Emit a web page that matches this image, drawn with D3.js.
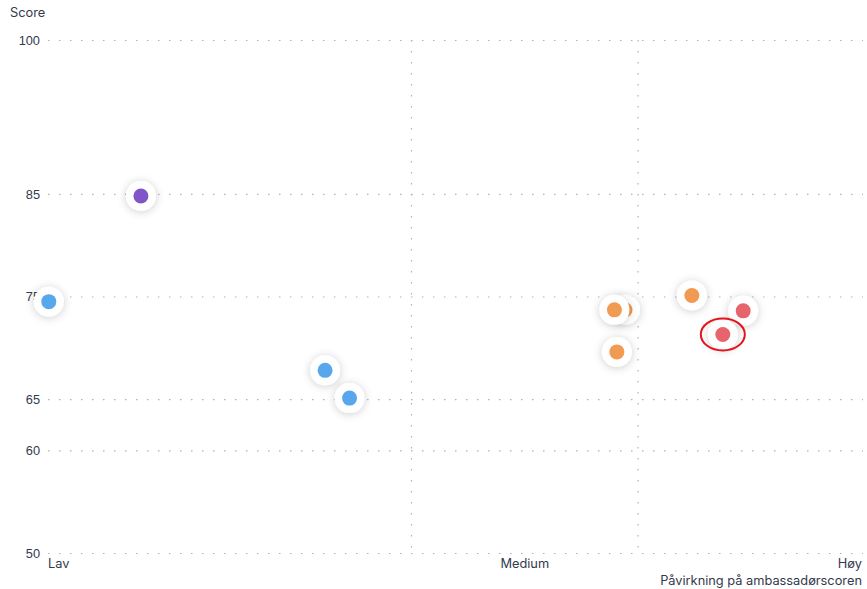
<!DOCTYPE html>
<html>
<head>
<meta charset="utf-8">
<script src="https://cdn.jsdelivr.net/npm/d3@7"></script>
<style>
  html, body { margin: 0; padding: 0; background: #fff; }
  svg { display: block; font-family: Inter, "Noto Sans", sans-serif; }
</style>
</head>
<body>
<svg id="chart" width="867" height="589"></svg>
<script>
// ---- data ----
const yTicks = [50, 60, 65, 75, 85, 100];
const xTickLabels = ["Lav", "Medium", "Høy"];
const xThresholds = [44.6, 72.4];
const pointX = [11.4, 0.1, 34.0, 37.0, 70.8, 69.5, 69.8, 79.0, 85.3, 82.8];
const pointY = [84.8, 74.5, 67.8, 65.1, 73.7, 73.7, 69.6, 75.1, 73.6, 71.3];
const pointGroup = ["purple", "blue", "blue", "blue", "orange", "orange", "orange", "orange", "red", "red"];
const highlighted = [false, false, false, false, false, false, false, false, false, true];
const yTitle = "Score";
const xTitle = "Påvirkning på ambassadørscoren";

const colors = { purple: "#7f55c9", blue: "#58a7ec", orange: "#f09a52", red: "#e8646c" };

// ---- layout ----
const svg = d3.select("#chart");
const mLeft = 48, mRight = 863, mTop = 40, mBottom = 553;
const fontSize = 12.8;
const textColor = "#333a4d";
const x = d3.scaleLinear().domain([0, 100]).range([mLeft, mRight]);
const y = d3.scaleLinear().domain([50, 100]).range([mBottom, mTop]);

const defs = svg.append("defs");
const f = defs.append("filter").attr("id", "shadow").attr("x", "-80%").attr("y", "-80%").attr("width", "260%").attr("height", "260%");
f.append("feDropShadow").attr("dx", 0).attr("dy", 1).attr("stdDeviation", 4).attr("flood-color", "#000").attr("flood-opacity", 0.2);

const gridColor = "#a9b2c3";

// horizontal gridlines
const yAxis = d3.axisLeft(y).tickValues(yTicks).tickSize(-(mRight - mLeft)).tickPadding(8).tickFormat(d3.format("d"));
const gy = svg.append("g").attr("transform", `translate(${mLeft},0)`).call(yAxis);
gy.select(".domain").remove();
gy.selectAll(".tick line").attr("stroke", gridColor).attr("stroke-width", 1.2).attr("stroke-dasharray", "1.5,9.5");
gy.selectAll(".tick text").attr("fill", textColor).attr("font-size", fontSize).attr("x", -8);

// vertical threshold lines
svg.append("g").selectAll("line").data(xThresholds).join("line")
  .attr("x1", d => x(d)).attr("x2", d => x(d))
  .attr("y1", mTop).attr("y2", mBottom)
  .attr("stroke", gridColor).attr("stroke-width", 1.2).attr("stroke-dasharray", "1.5,9.5");

// x labels
const xLabelPos = [0, (xThresholds[0] + xThresholds[1]) / 2, 100];
const anchors = ["start", "middle", "end"];
svg.append("g").selectAll("text").data(xTickLabels).join("text")
  .attr("x", (d, i) => x(xLabelPos[i]) + (i === 2 ? -1 : 0))
  .attr("y", 568)
  .attr("text-anchor", (d, i) => anchors[i])
  .attr("fill", textColor).attr("font-size", fontSize)
  .text(d => d);

svg.append("text").attr("x", mRight - 1).attr("y", 585).attr("text-anchor", "end")
  .attr("fill", textColor).attr("font-size", fontSize).text(xTitle);
svg.append("text").attr("x", 10).attr("y", 17)
  .attr("fill", textColor).attr("font-size", fontSize).text(yTitle);

// points
const data = pointX.map((v, i) => ({ x: v, y: pointY[i], g: pointGroup[i], h: highlighted[i] }));
const pg = svg.append("g").selectAll("g").data(data).join("g")
  .attr("transform", d => `translate(${x(d.x)},${y(d.y)})`);
pg.append("circle").attr("r", 15).attr("fill", "#fff").attr("filter", "url(#shadow)");
pg.append("circle").attr("r", 7.5).attr("fill", d => colors[d.g]);
pg.filter(d => d.h).append("ellipse").attr("rx", 22).attr("ry", 16)
  .attr("fill", "none").attr("stroke", "#e4141b").attr("stroke-width", 2);
</script>
</body>
</html>
